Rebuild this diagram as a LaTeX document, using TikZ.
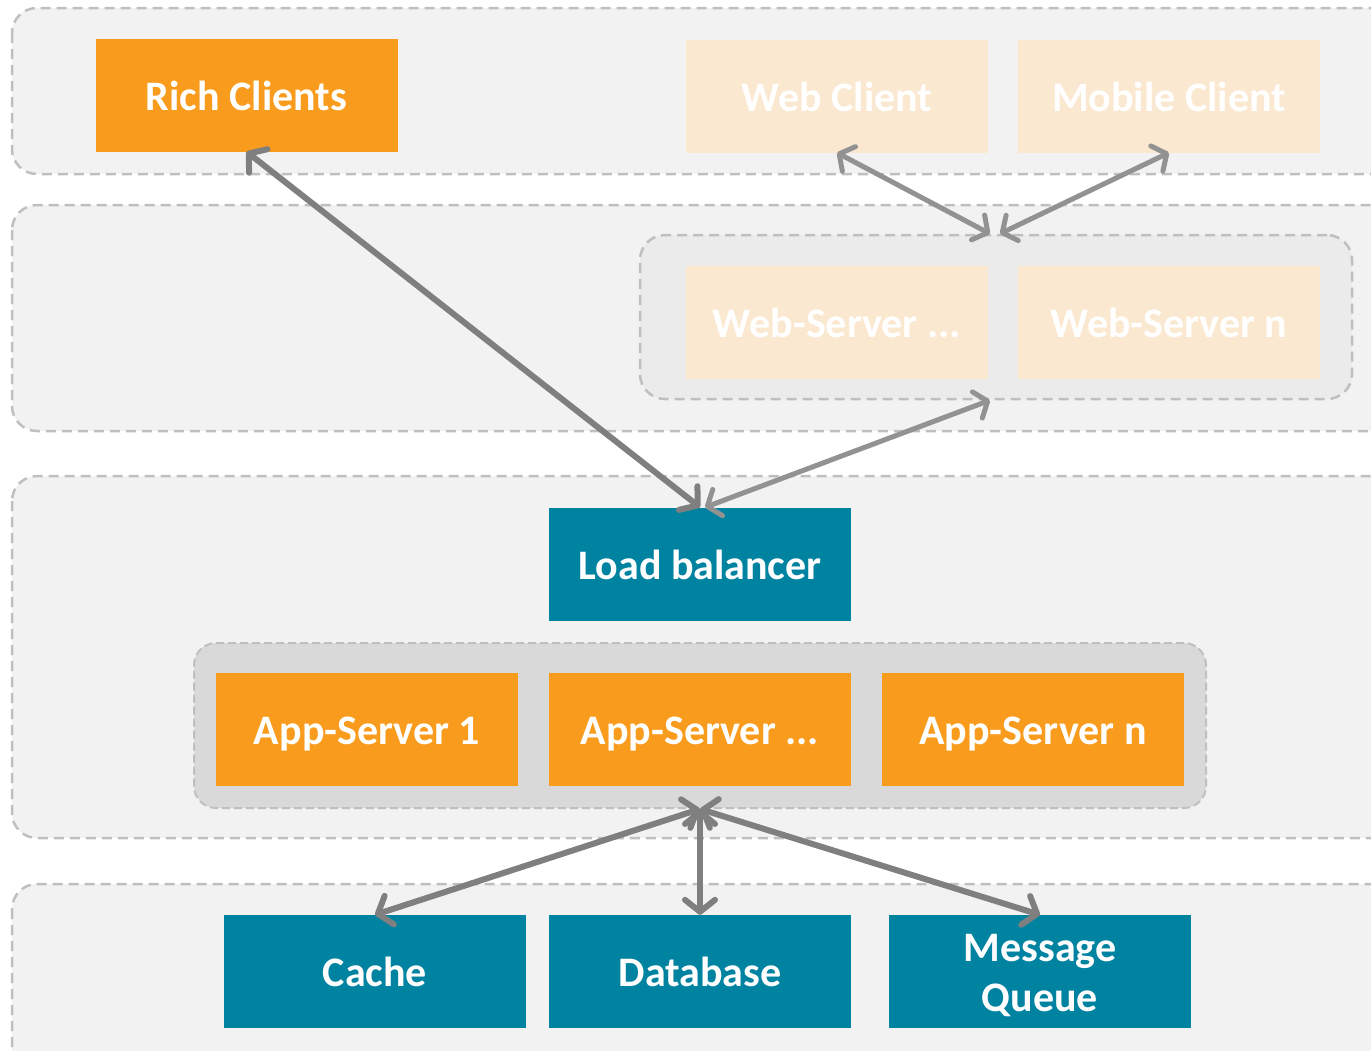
\documentclass[tikz,border=0pt]{standalone}
\usepackage{fontspec}
\setmainfont{Carlito}
\usetikzlibrary{arrows.meta,positioning}

\definecolor{boxorange}{HTML}{F99B1C}
\definecolor{boxteal}{HTML}{0083A0}
\definecolor{paleorange}{HTML}{FBE8D0}
\definecolor{layerfill}{HTML}{F2F2F2}
\definecolor{layerline}{HTML}{BFBFBF}
\definecolor{groupfill}{HTML}{D9D9D9}
\definecolor{arrowgray}{HTML}{7F7F7F}

\begin{document}
\begin{tikzpicture}[x=1pt, y=-1pt,
    every node/.style={font=\bfseries\fontsize{42}{50}\selectfont, text=white, align=center, inner sep=0pt},
    tier/.style={draw=layerline, fill=layerfill, line width=2.5pt, dash pattern=on 10pt off 6pt, rounded corners=25pt},
    comp/.style={minimum width=302pt, minimum height=113pt, text height=36pt, text depth=6pt},
    orangebox/.style={comp, fill=boxorange},
    tealbox/.style={comp, fill=boxteal},
    fadedbox/.style={comp, fill=paleorange},
    link/.style={draw=arrowgray, line width=6pt, {Straight Barb[round,length=12pt,width=30pt]}-{Straight Barb[round,length=12pt,width=30pt]}},
    fadedlink/.style={draw=arrowgray!85, line width=5pt, {Straight Barb[round,length=11pt,width=28pt]}-{Straight Barb[round,length=11pt,width=28pt]}}]

    \useasboundingbox (0,0) rectangle (1371,1050);

    % tiers
    \draw [tier] (12,8) rectangle (1398,174);
    \draw [tier] (12,205) rectangle (1398,431);
    \draw [tier] (12,476) rectangle (1398,838);
    \draw [tier] (12,884) rectangle (1398,1080);

    % clients
    \node [orangebox] (rich) at (246.5,95) {Rich Clients};
    \node [fadedbox] (webc) at (837,96) {Web Client};
    \node [fadedbox] (mobc) at (1169,96) {Mobile Client};

    % web servers
    \node [draw=layerline, fill=layerfill!97!black, line width=2.5pt, dash pattern=on 10pt off 6pt,
           rounded corners=25pt, minimum width=712pt, minimum height=164pt] (wsgroup) at (996,317) {};
    \node [fadedbox] (ws2) at (837,322) {Web-Server ...};
    \node [fadedbox] (wsn) at (1169,322) {Web-Server n};

    % application tier
    \node [tealbox] (lb) at (700,564) {Load balancer};
    \node [draw=layerline, fill=groupfill, line width=2pt, dash pattern=on 8pt off 4pt,
           rounded corners=22pt, minimum width=1012pt, minimum height=165pt] (appgroup) at (700,725.5) {};
    \node [orangebox] (app1) at (367,729.5) {App-Server 1};
    \node [orangebox] (app2) at (700,729.5) {App-Server ...};
    \node [orangebox] (appn) at (1033,729.5) {App-Server n};

    % backends
    \node [tealbox] (cache) at (375,971.5) {Cache};
    \node [tealbox] (db) at (700,971.5) {Database};
    \node [minimum width=302pt, minimum height=113pt, fill=boxteal] (mq) at (1040,971.5) {\rule{0pt}{36pt}Message\\Queue};

    \draw [fadedlink] (webc.south) -- ([xshift=-6pt]wsgroup.north);
    \draw [fadedlink] (mobc.south) -- ([xshift=4pt]wsgroup.north);
    \draw [fadedlink] ([xshift=5pt]lb.north) -- ([xshift=-6pt]wsgroup.south);
    \draw [link] (rich.south) -- (lb.north);
    \draw [link] (appgroup.south) -- (cache.north);
    \draw [link] (appgroup.south) -- (db.north);
    \draw [link] (appgroup.south) -- (mq.north);
\end{tikzpicture}
\end{document}
